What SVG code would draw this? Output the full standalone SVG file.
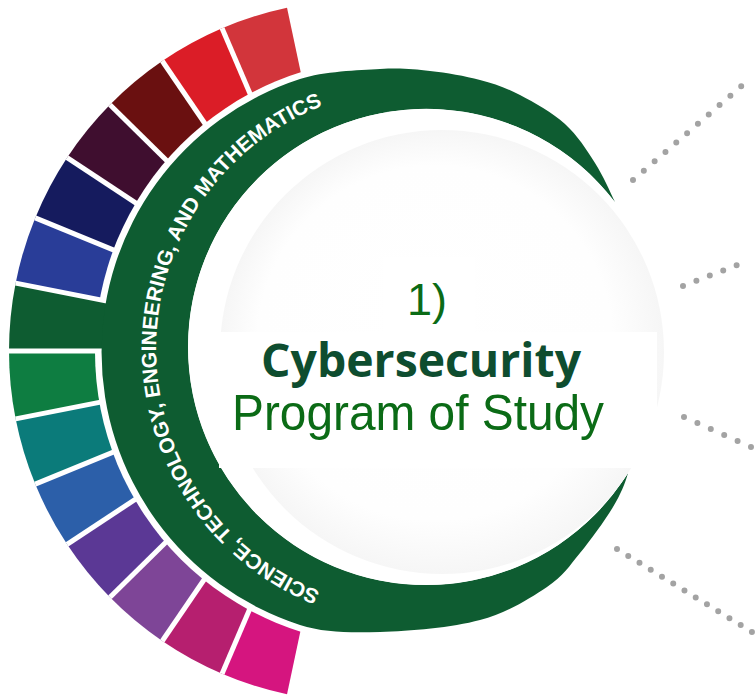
<svg xmlns="http://www.w3.org/2000/svg" width="755" height="698" viewBox="0 0 755 698">
  <style>
    .sep { stroke: #ffffff; stroke-width: 5; fill: none; }
    .dots { stroke: #a3a3a3; stroke-width: 6; stroke-linecap: round; fill: none; }
    .ringtext { font-family: "Liberation Sans", Arial, sans-serif; font-weight: bold; font-size: 21px; fill: #ffffff; }
    .num { font-family: "Liberation Sans", Arial, sans-serif; font-size: 45px; fill: #0b6b16; }
    .title { font-family: "Open Sans", "Liberation Sans", sans-serif; font-weight: bold; font-size: 46px; fill: #0e4d2f; }
    .sub { font-family: "Liberation Sans", Arial, sans-serif; font-size: 50px; fill: #0b6b16; }
  </style>
  <defs>
    <radialGradient id="discShade" cx="0.5" cy="0.5" r="0.5" fx="0.42" fy="0.4">
      <stop offset="0" stop-color="#ffffff"/>
      <stop offset="0.8" stop-color="#fefefe"/>
      <stop offset="1" stop-color="#f6f6f6"/>
    </radialGradient>
    <path id="ringPath" d="M 320.3,591.4 A 261 261 0 0 1 371.7,92.0"/>
  </defs>
  <rect x="0" y="0" width="755" height="698" fill="#ffffff"/>

  <g id="segments">
    <path d="M360,351 L287.02,694.33 A351,351 0 0 1 222.05,673.75 Z" fill="#d5157f"/>
    <path d="M360,351 L222.05,673.75 A351,351 0 0 1 162.27,641.01 Z" fill="#b61f6f"/>
    <path d="M360,351 L162.27,641.01 A351,351 0 0 1 109.95,597.32 Z" fill="#7e4597"/>
    <path d="M360,351 L109.95,597.32 A351,351 0 0 1 67.07,544.36 Z" fill="#5b3895"/>
    <path d="M360,351 L67.07,544.36 A351,351 0 0 1 35.22,484.10 Z" fill="#2c5fa9"/>
    <path d="M360,351 L35.22,484.10 A351,351 0 0 1 15.62,418.84 Z" fill="#0b7b7a"/>
    <path d="M360,351 L15.62,418.84 A351,351 0 0 1 9,351 Z" fill="#0e7d41"/>
    <path d="M360,351 L15.62,283.16 A351,351 0 0 1 35.22,217.90 Z" fill="#293d98"/>
    <path d="M360,351 L35.22,217.90 A351,351 0 0 1 67.07,157.64 Z" fill="#151b5e"/>
    <path d="M360,351 L67.07,157.64 A351,351 0 0 1 109.95,104.68 Z" fill="#3f0e2f"/>
    <path d="M360,351 L109.95,104.68 A351,351 0 0 1 162.27,60.99 Z" fill="#6a1010"/>
    <path d="M360,351 L162.27,60.99 A351,351 0 0 1 222.05,28.25 Z" fill="#db1d27"/>
    <path d="M360,351 L222.05,28.25 A351,351 0 0 1 287.02,7.67 Z" fill="#d2353b"/>
    <circle cx="388" cy="352" r="293" fill="#ffffff"/>
    <path id="band" d="M9,351 A351,351 0 0 1 15.62,283.16 L144.15,308.48 A220,220 0 0 0 140,351 Z" fill="#0e5c31"/>
    <g class="sep">
      <line x1="360" y1="351" x2="222.05" y2="673.75"/>
      <line x1="360" y1="351" x2="162.27" y2="641.01"/>
      <line x1="360" y1="351" x2="109.95" y2="597.32"/>
      <line x1="360" y1="351" x2="67.07" y2="544.36"/>
      <line x1="360" y1="351" x2="35.22" y2="484.10"/>
      <line x1="360" y1="351" x2="15.62" y2="418.84"/>
      <line x1="360" y1="351" x2="0" y2="351"/>
      <line x1="360" y1="351" x2="15.62" y2="283.16"/>
      <line x1="360" y1="351" x2="35.22" y2="217.90"/>
      <line x1="360" y1="351" x2="67.07" y2="157.64"/>
      <line x1="360" y1="351" x2="109.95" y2="104.68"/>
      <line x1="360" y1="351" x2="162.27" y2="60.99"/>
      <line x1="360" y1="351" x2="222.05" y2="28.25"/>
    </g>
  </g>

  <g id="ring">
    <path d="M615,202 C610,191.7 603.3,176 595,163 C586.7,150 577.5,135.3 565,124 C552.5,112.7 534.2,102.3 520,95 C505.8,87.7 495,84 480,80 C465,76 446.7,72.8 430,71 C413.3,69.2 401.7,67.7 380,69 C358.3,70.3 323.8,71.3 300,79 A287,287 0 0 0 300,625 C323.8,632.7 350,632.8 380,632 C410,631.2 452.2,627.5 480,620 C507.8,612.5 530.3,598.2 547,587 C563.7,575.8 569,566.3 580,553 C591,539.7 605,520.3 613,507 C621,493.7 624.8,484.2 628,473 A238,238 0 1 1 615,202 Z" fill="#0e5c31"/>
    <text class="ringtext"><textPath href="#ringPath" textLength="624" lengthAdjust="spacing">SCIENCE, TECHNOLOGY, ENGINEERING, AND MATHEMATICS</textPath></text>
  </g>

  <g id="center">
    <circle cx="426" cy="347" r="238" fill="#ffffff"/>
    <circle cx="442" cy="352" r="222" fill="url(#discShade)"/>
    <rect x="383" y="257" width="92" height="76" fill="#ffffff"/>
    <rect x="219" y="332" width="438" height="136" fill="#ffffff"/>
    <text class="num" x="427" y="315" text-anchor="middle">1)</text>
    <text class="title" x="421" y="377" text-anchor="middle" textLength="320" lengthAdjust="spacingAndGlyphs">Cybersecurity</text>
    <text class="sub" x="418" y="430" text-anchor="middle" textLength="372" lengthAdjust="spacingAndGlyphs">Program of Study</text>
  </g>

  <g id="connectors">
    <line class="dots" x1="633" y1="180" x2="752" y2="77" stroke-dasharray="0 14.31"/>
    <line class="dots" x1="683" y1="286" x2="750" y2="260" stroke-dasharray="0 14.38"/>
    <line class="dots" x1="684" y1="417" x2="751" y2="447" stroke-dasharray="0 14.68"/>
    <line class="dots" x1="617" y1="549" x2="752" y2="632" stroke-dasharray="0 13.2"/>
  </g>
</svg>
